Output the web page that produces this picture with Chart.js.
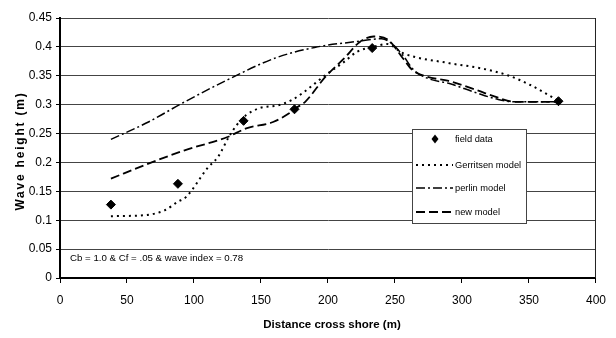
<!DOCTYPE html>
<html>
<head>
<meta charset="utf-8">
<script src="https://cdn.jsdelivr.net/npm/chart.js@4.4.1/dist/chart.umd.min.js"></script>
<style>
    html, body { margin: 0; padding: 0; background: #fff; }
    #chart { display: block; }
</style>
</head>
<body>
<canvas id="chart" width="616" height="338"></canvas>
<script>
// field measurements
const fieldX = [38, 88, 137, 175, 233, 372];
const fieldY = [0.127, 0.163, 0.272, 0.292, 0.398, 0.306];

// model curves
const gerritsenX = [38, 64, 78, 88, 94, 110, 118, 126, 132, 139, 149, 163, 173, 181, 198, 212, 222, 234, 244, 256, 290, 314, 334, 351, 372];
const gerritsenY = [0.107, 0.109, 0.117, 0.132, 0.140, 0.190, 0.210, 0.244, 0.265, 0.282, 0.294, 0.299, 0.308, 0.320, 0.351, 0.374, 0.392, 0.400, 0.405, 0.389, 0.372, 0.363, 0.351, 0.334, 0.307];

const perlinX = [38, 66, 90, 125, 161, 190, 220, 240, 248, 256, 264, 275, 290, 310, 327, 340, 372];
const perlinY = [0.240, 0.270, 0.301, 0.343, 0.381, 0.399, 0.409, 0.414, 0.405, 0.385, 0.360, 0.345, 0.337, 0.321, 0.309, 0.305, 0.305];

const newModelX = [38, 66, 93, 125, 139, 159, 171, 176, 183, 198, 212, 224, 234, 245, 256, 263, 273, 290, 310, 327, 339, 372];
const newModelY = [0.172, 0.198, 0.221, 0.244, 0.259, 0.270, 0.285, 0.294, 0.305, 0.348, 0.380, 0.409, 0.418, 0.412, 0.380, 0.360, 0.349, 0.341, 0.326, 0.312, 0.305, 0.305];

const seriesNames = ['field data', 'Gerritsen model', 'perlin model', 'new model'];
const yTickLabels = ['0', '0.05', '0.1', '0.15', '0.2', '0.25', '0.3', '0.35', '0.4', '0.45'];
const xTickLabels = ['0', '50', '100', '150', '200', '250', '300', '350', '400'];
const noteText = 'Cb = 1.0 & Cf = .05 & wave index = 0.78';

const FONT = '"Liberation Sans", Arial, sans-serif';

function toPoints(xs, ys) {
    return xs.map((x, i) => ({ x: x, y: ys[i] }));
}

function lineSet(label, xs, ys, dash, width) {
    return {
        label: label,
        data: toPoints(xs, ys),
        showLine: true,
        borderColor: '#000',
        borderWidth: width,
        borderDash: dash,
        pointRadius: 0,
        cubicInterpolationMode: 'monotone',
        fill: false
    };
}

const datasets = [
    {
        label: seriesNames[0],
        data: toPoints(fieldX, fieldY),
        showLine: false,
        pointStyle: 'rectRot',
        pointRadius: 4.5,
        backgroundColor: '#000',
        borderColor: '#000',
        borderWidth: 1
    },
    lineSet(seriesNames[1], gerritsenX, gerritsenY, [2, 4], 2),
    lineSet(seriesNames[2], perlinX, perlinY, [9, 3, 2, 3], 1.5),
    lineSet(seriesNames[3], newModelX, newModelY, [9, 4], 1.8)
];

// frame, axis titles, note and the boxed legend
const decorPlugin = {
    id: 'decor',
    afterDraw(chart) {
        const ctx = chart.ctx;
        const area = chart.chartArea;
        ctx.save();

        // right border of plot
        ctx.strokeStyle = '#222';
        ctx.lineWidth = 1;
        ctx.beginPath();
        ctx.moveTo(area.right - 0.5, area.top);
        ctx.lineTo(area.right - 0.5, area.bottom);
        ctx.stroke();

        // note text
        ctx.fillStyle = '#000';
        ctx.font = '9.7px ' + FONT;
        ctx.textAlign = 'left';
        ctx.textBaseline = 'middle';
        ctx.fillText(noteText, 70, 258);

        // x title
        ctx.font = 'bold 11.5px ' + FONT;
        ctx.textAlign = 'center';
        ctx.fillText('Distance cross shore (m)', 332, 325);

        // y title (spaced letters like the original)
        ctx.translate(21, 151);
        ctx.rotate(-Math.PI / 2);
        ctx.font = 'bold 12px ' + FONT;
        ctx.letterSpacing = '1.8px';
        ctx.fillText('Wave height (m)', 0, 0);
        ctx.restore();

        // legend box
        ctx.save();
        const lx = 412, ly = 129, lw = 114, lh = 94;
        ctx.fillStyle = '#fff';
        ctx.fillRect(lx, ly, lw, lh);
        ctx.strokeStyle = '#444';
        ctx.lineWidth = 1;
        ctx.strokeRect(lx + 0.5, ly + 0.5, lw, lh);

        const rowY = [139, 165, 188, 212];
        ctx.font = '9.3px ' + FONT;
        ctx.textAlign = 'left';
        ctx.textBaseline = 'middle';
        chart.data.datasets.forEach((ds, i) => {
            const y = rowY[i];
            if (i === 0) {
                ctx.fillStyle = '#000';
                ctx.beginPath();
                ctx.moveTo(435, y - 4.5);
                ctx.lineTo(438.5, y);
                ctx.lineTo(435, y + 4.5);
                ctx.lineTo(431.5, y);
                ctx.closePath();
                ctx.fill();
            } else {
                ctx.strokeStyle = '#000';
                ctx.lineWidth = ds.borderWidth;
                ctx.setLineDash(ds.borderDash);
                ctx.beginPath();
                ctx.moveTo(416, y);
                ctx.lineTo(453, y);
                ctx.stroke();
                ctx.setLineDash([]);
            }
            ctx.fillStyle = '#000';
            ctx.fillText(ds.label, 455, y);
        });
        ctx.restore();
    }
};

new Chart(document.getElementById('chart'), {
    type: 'scatter',
    data: { datasets: datasets },
    options: {
        responsive: false,
        devicePixelRatio: 1,
        animation: false,
        layout: { padding: { top: 18, right: 9, left: 0, bottom: 0 } },
        plugins: {
            legend: { display: false },
            tooltip: { enabled: false }
        },
        scales: {
            x: {
                type: 'linear',
                min: 0,
                max: 400,
                afterFit: function(scale) { scale.height = 60; },
                afterBuildTicks: function(scale) {
                    scale.ticks = xTickLabels.map(v => ({ value: Number(v) }));
                },
                ticks: {
                    color: '#000',
                    font: { family: FONT, size: 12 },
                    padding: 10,
                    maxRotation: 0,
                    callback: function(value, index) { return xTickLabels[index]; }
                },
                grid: {
                    drawOnChartArea: false,
                    drawTicks: true,
                    tickLength: 5,
                    tickColor: '#000',
                    tickWidth: 1
                },
                border: { display: true, color: '#000', width: 2 }
            },
            y: {
                type: 'linear',
                min: 0,
                max: 0.45,
                afterFit: function(scale) { scale.width = 60; },
                afterBuildTicks: function(scale) {
                    scale.ticks = yTickLabels.map(v => ({ value: Number(v) }));
                },
                ticks: {
                    color: '#000',
                    font: { family: FONT, size: 12 },
                    padding: 4,
                    callback: function(value, index) { return yTickLabels[index]; }
                },
                grid: {
                    color: '#444',
                    lineWidth: 1,
                    drawTicks: true,
                    tickLength: 4,
                    tickColor: '#000'
                },
                border: { display: true, color: '#000', width: 2 }
            }
        }
    },
    plugins: [decorPlugin]
});
</script>
</body>
</html>
